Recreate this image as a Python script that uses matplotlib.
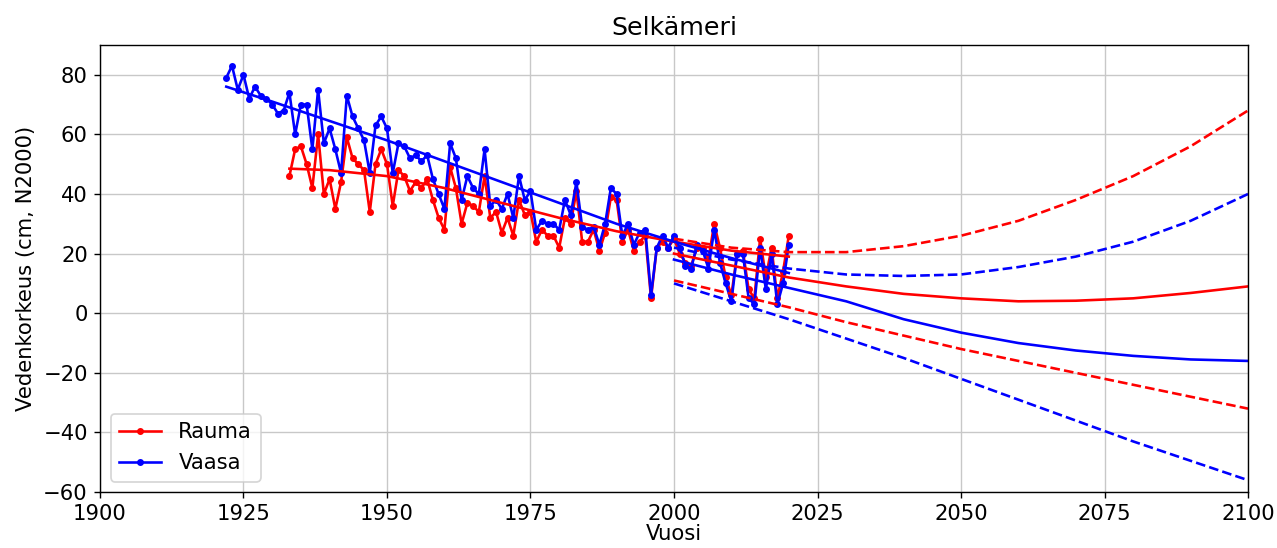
import numpy as np
import matplotlib
matplotlib.use("Agg")
import matplotlib.pyplot as plt

# observed annual mean sea level (cm, N2000)
vaasa_years = np.arange(1922, 2021)
vaasa_level = [
    79, 83, 75, 80, 72, 76, 73, 72, 70, 67,
    68, 74, 60, 70, 70, 55, 75, 57, 62, 55,
    47, 73, 66, 62, 58, 47, 63, 66, 62, 47,
    57, 56, 52, 53, 51, 53, 45, 40, 35, 57,
    52, 38, 46, 42, 40, 55, 36, 38, 35, 40,
    32, 46, 38, 41, 28, 31, 30, 30, 28, 38,
    33, 44, 29, 28, 29, 23, 30, 42, 40, 26,
    30, 23, 27, 28, 6, 22, 26, 22, 26, 22,
    16, 15, 23, 21, 15, 28, 17, 10, 4, 20,
    20, 5, 3, 22, 8, 20, 3, 10, 23,
]

rauma_years = np.arange(1933, 2021)
rauma_level = [
    46, 55, 56, 50, 42, 60, 40, 45, 35, 44,
    59, 52, 50, 48, 34, 50, 55, 50, 36, 48,
    46, 41, 44, 42, 45, 38, 32, 28, 49, 42,
    30, 37, 36, 34, 46, 32, 34, 27, 32, 26,
    38, 33, 34, 24, 28, 26, 26, 22, 32, 30,
    41, 24, 24, 28, 21, 27, 39, 38, 24, 28,
    21, 24, 26, 5, 22, 24, 22, 25, 20, 17,
    16, 22, 22, 18, 30, 22, 12, 6, 20, 21,
    8, 5, 25, 12, 22, 5, 14, 26,
]

# fitted trends through observations
vaasa_trend_years = [1922, 1930, 1940, 1950, 1960, 1970, 1980, 1990, 2000, 2010, 2020]
vaasa_trend = [76, 71, 64.5, 58, 51, 44, 37, 30, 24, 18.5, 13.5]
rauma_trend_years = [1933, 1940, 1950, 1960, 1970, 1980, 1990, 2000, 2010, 2020]
rauma_trend = [48.5, 48, 46, 42, 37, 32, 27.5, 24, 21, 19]

# projections 2000-2100
proj_years = [2000, 2010, 2020, 2030, 2040, 2050, 2060, 2070, 2080, 2090, 2100]
rauma_mid = [20, 16, 12, 9, 6.5, 5, 4, 4.2, 5, 6.8, 9]
rauma_high = [25, 22, 20.5, 20.5, 22.5, 26, 31, 38, 46, 56, 68]
rauma_low = [11, 6.5, 2, -3, -7.5, -12, -16, -20, -24, -28, -32]
vaasa_mid = [18, 13, 8.5, 4, -2, -6.5, -10, -12.5, -14.3, -15.5, -16]
vaasa_high = [22, 18, 15, 13, 12.5, 13, 15.5, 19, 24, 31, 40]
vaasa_low = [10, 4, -2, -8.5, -15, -22, -29, -36, -43, -49.5, -56]


def main():
    plt.rcParams["font.size"] = 12.2
    plt.rcParams["grid.color"] = "#c8c8c8"

    fig = plt.figure(figsize=(1277 / 125, 548 / 125), dpi=125)
    ax = fig.add_axes([0.0783, 0.102, 0.899, 0.816])

    ax.plot(rauma_years, rauma_level, color="red", marker=".", label="Rauma")
    ax.plot(vaasa_years, vaasa_level, color="blue", marker=".", label="Vaasa")

    ax.plot(rauma_trend_years, rauma_trend, color="red")
    ax.plot(vaasa_trend_years, vaasa_trend, color="blue")

    ax.plot(proj_years, rauma_mid, color="red")
    ax.plot(proj_years, rauma_high, color="red", linestyle="--")
    ax.plot(proj_years, rauma_low, color="red", linestyle="--")
    ax.plot(proj_years, vaasa_mid, color="blue")
    ax.plot(proj_years, vaasa_high, color="blue", linestyle="--")
    ax.plot(proj_years, vaasa_low, color="blue", linestyle="--")

    ax.set_xlim(1900, 2100)
    ax.set_ylim(-60, 90)
    ax.set_xticks(np.arange(1900, 2101, 25))
    ax.set_yticks(np.arange(-60, 81, 20))
    ax.grid(True)

    ax.set_title("Selkämeri")
    ax.set_xlabel("Vuosi", labelpad=0)
    ax.set_ylabel("Vedenkorkeus (cm, N2000)")
    ax.legend(loc="lower left")

    fig.savefig("out.png", dpi=125)


if __name__ == "__main__":
    main()
